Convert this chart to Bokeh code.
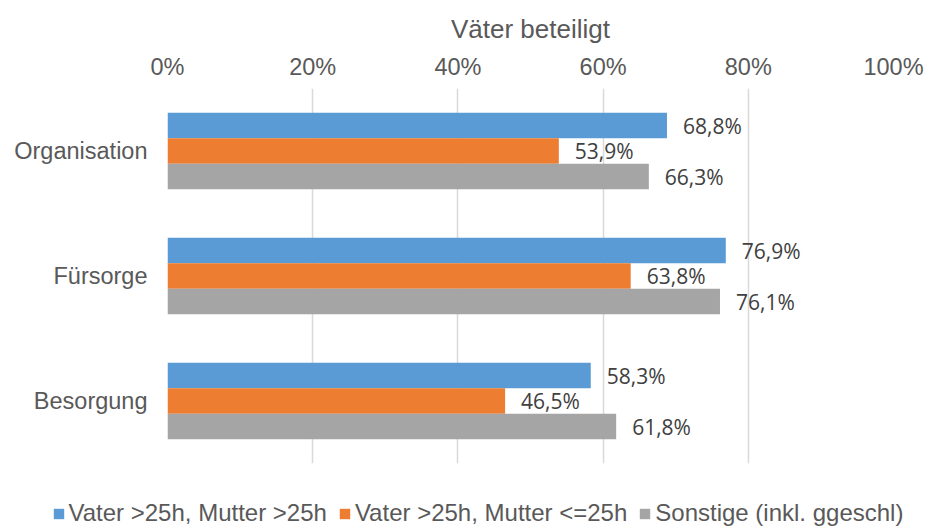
from bokeh.plotting import figure
from bokeh.layouts import column
from bokeh.models import (ColumnDataSource, FactorRange, Range1d, FixedTicker,
                          PrintfTickFormatter, LabelSet, Legend, LegendItem)
from bokeh.core.properties import value
from bokeh.transform import dodge
from bokeh.embed import file_html
from bokeh.resources import INLINE

categories = ["Organisation", "Fürsorge", "Besorgung"]
series_names = ["Vater >25h, Mutter >25h", "Vater >25h, Mutter <=25h", "Sonstige (inkl. ggeschl)"]
vater_mutter_gt25 = [68.8, 76.9, 58.3]
vater_mutter_le25 = [53.9, 63.8, 46.5]
sonstige = [66.3, 76.1, 61.8]
x_ticks = [0, 20, 40, 60, 80, 100]
axis_title = "Väter beteiligt"

colors = ["#5B9BD5", "#ED7D31", "#A5A5A5"]
offsets = [0.204, 0.0, -0.204]
series_values = [vater_mutter_gt25, vater_mutter_le25, sonstige]

TEXT = "#595959"

p = figure(width=927, height=490,
           y_range=FactorRange(*reversed(categories)),
           x_range=Range1d(0, 100),
           x_axis_location="above",
           output_backend="svg", toolbar_location=None,
           min_border_left=167, min_border_right=34,
           min_border_top=88, min_border_bottom=27)
p.y_range.range_padding = 0
p.outline_line_color = None
p.frame_align = False

sources = []
for name, vals, col, off in zip(series_names, series_values, colors, offsets):
    src = ColumnDataSource(dict(
        cat=categories,
        val=vals,
        txt=[f"{v:.1f}".replace(".", ",") + "%" for v in vals],
    ))
    sources.append(src)
    p.hbar(y=dodge("cat", off, range=p.y_range), right="val", left=0,
           height=0.204, source=src, fill_color=col, line_color=None)
    lab = LabelSet(x="val", y=dodge("cat", off, range=p.y_range), text="txt",
                   source=src, x_offset=16, text_baseline="middle",
                   text_font=value("Open Sans"), text_font_size="21px",
                   text_color="#404040")
    p.add_layout(lab)

# x axis (top)
xa = p.xaxis[0]
xa.ticker = FixedTicker(ticks=x_ticks)
xa.formatter = PrintfTickFormatter(format="%d%%")
xa.axis_line_color = None
xa.major_tick_line_color = None
xa.minor_tick_line_color = None
xa.major_tick_out = 0
xa.major_label_text_font = "Liberation Sans"
xa.major_label_text_font_size = "23.5px"
xa.major_label_text_color = TEXT
xa.major_label_standoff = 9
xa.axis_label = axis_title
xa.axis_label_text_font = "Liberation Sans"
xa.axis_label_text_font_size = "26px"
xa.axis_label_text_font_style = "normal"
xa.axis_label_text_color = TEXT
xa.axis_label_standoff = 7

# y axis
ya = p.yaxis[0]
ya.axis_line_color = None
ya.major_tick_line_color = None
ya.minor_tick_line_color = None
ya.major_tick_out = 0
ya.major_label_standoff = 20
ya.major_label_text_font = "Liberation Sans"
ya.major_label_text_font_size = "23.5px"
ya.major_label_text_color = TEXT

p.xgrid.grid_line_color = "#D9D9D9"
p.xgrid.grid_line_width = 1.5
p.ygrid.grid_line_color = None

# legend strip below the chart (its series renderers are hidden; legend only)
lf = figure(width=927, height=37, x_range=Range1d(0, 100),
            y_range=FactorRange(*reversed(categories)),
            x_axis_type=None, y_axis_type=None,
            output_backend="svg", toolbar_location=None,
            min_border=0)
lf.outline_line_color = None
lf.grid.visible = False
lf.frame_align = False
items = []
for name, col, src in zip(series_names, colors, sources):
    r = lf.hbar(y="cat", right="val", left=0, height=0.5, source=src,
                fill_color=col, line_color=None, visible=False)
    items.append(LegendItem(label=name, renderers=[r]))
legend = Legend(items=items, orientation="horizontal", location=(51.5, 0),
                padding=0, margin=0, spacing=11, label_standoff=4,
                glyph_width=13, glyph_height=13,
                label_text_font="Liberation Sans", label_text_font_size="24px",
                label_text_color=TEXT, border_line_color=None,
                background_fill_alpha=0)
lf.add_layout(legend, "center")

layout = column(p, lf, spacing=0)
open("out.html", "w").write(file_html(layout, INLINE))
